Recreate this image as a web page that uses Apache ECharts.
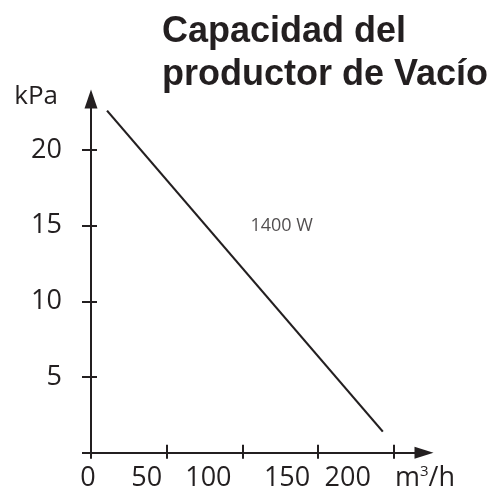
<!DOCTYPE html>
<html><head><meta charset="utf-8">
<script src="https://cdn.jsdelivr.net/npm/echarts@6/dist/echarts.min.js"></script>
<style>html,body{margin:0;padding:0;background:#fff}#c{width:500px;height:494px}</style>
</head><body><div id="c"></div>
<script>
// ---- data ----
const titleLines = ['Capacidad del', 'productor de Vacío'];
const flowValues = [10.6, 192.8];      // m³/h
const pressureValues = [22.6, 1.4];    // kPa
const seriesLabel = '1400 W';
const seriesLabelAt = [126, 15];
const xTickValues = [0, 50, 100, 150, 200];
const yTickValues = [5, 10, 15, 20];
const xUnit = ['m', '3', '/h'];
const yUnit = 'kPa';

// ---- styles ----
const INK = '#231f20';
const FONT = 'Open Sans';
const xLabelShift = {0: 3, 50: 20, 100: 34, 150: 31, 200: 46};

const xRich = {};
xTickValues.forEach(v => {
  xRich['s' + v] = {fontFamily: FONT, fontSize: 27, color: INK, padding: [0, 2 * xLabelShift[v], 0, 0]};
});

const chart = echarts.init(document.getElementById('c'), null, {renderer: 'canvas'});
const lineData = flowValues.map((x, i) => [x, pressureValues[i]]);

const option = {
  animation: false,
  backgroundColor: '#fff',
  title: {
    text: titleLines.join('\n'),
    left: 157, top: 6,
    textStyle: {fontFamily: 'Liberation Sans', fontWeight: 'bold', fontSize: 36, lineHeight: 43, color: INK}
  },
  grid: {left: 91, right: 76, top: 99, bottom: 41.2, containLabel: false, outerBoundsMode: 'none'},
  xAxis: [{
    type: 'value', min: 0, max: 220, interval: 50, position: 'bottom',
    axisLine: {show: true, onZero: false, symbol: ['none', 'triangle'], symbolSize: [12, 19], lineStyle: {color: INK, width: 2}},
    axisTick: {show: true, inside: false, length: 6, customValues: xTickValues, lineStyle: {color: INK, width: 2}},
    axisLabel: {customValues: xTickValues, margin: 12, formatter: v => '{s' + v + '|' + v + '}', rich: xRich},
    splitLine: {show: false},
    name: '{m|' + xUnit[0] + '}{sup|' + xUnit[1] + '}{m|' + xUnit[2] + '}',
    nameLocation: 'end', nameGap: 1,
    nameTextStyle: {align: 'center', verticalAlign: 'top', padding: [11, 0, 0, 0],
      rich: {m: {fontFamily: FONT, fontSize: 27, color: INK, lineHeight: 30},
             sup: {fontFamily: FONT, fontSize: 15, color: INK, verticalAlign: 'top', lineHeight: 30}}}
  }, {
    type: 'value', min: 0, max: 220, interval: 50, position: 'bottom',
    axisLine: {show: false, onZero: false},
    axisTick: {show: true, inside: true, length: 8, customValues: xTickValues.filter(v => v > 0), lineStyle: {color: INK, width: 2}},
    axisLabel: {show: false},
    splitLine: {show: false}
  }],
  yAxis: [{
    type: 'value', min: 0, max: 23.37, interval: 5, position: 'left',
    axisLine: {show: true, onZero: false, symbol: ['none', 'triangle'], symbolSize: [13, 19], lineStyle: {color: INK, width: 2}},
    axisTick: {show: true, inside: false, length: 9, customValues: [0].concat(yTickValues), lineStyle: {color: INK, width: 2}},
    axisLabel: {customValues: yTickValues, margin: 29, fontFamily: FONT, fontSize: 27, color: INK},
    splitLine: {show: false},
    name: yUnit, nameLocation: 'end', nameGap: 2,
    nameTextStyle: {align: 'right', verticalAlign: 'middle', padding: [0, 33, 0, 0], fontFamily: FONT, fontSize: 26, color: INK}
  }, {
    type: 'value', min: 0, max: 23.37, interval: 5, position: 'left',
    axisLine: {show: false, onZero: false},
    axisTick: {show: true, inside: true, length: 6, customValues: yTickValues, lineStyle: {color: INK, width: 2}},
    axisLabel: {show: false},
    splitLine: {show: false}
  }],
  series: [{
    type: 'line', xAxisIndex: 0, yAxisIndex: 0,
    data: lineData, symbol: 'none', silent: true,
    lineStyle: {color: INK, width: 2.2}
  }, {
    type: 'scatter', xAxisIndex: 0, yAxisIndex: 0,
    data: [seriesLabelAt], symbolSize: 1, silent: true,
    itemStyle: {color: 'rgba(0,0,0,0)'},
    label: {show: true, position: 'inside', formatter: seriesLabel, fontFamily: FONT, fontSize: 18, color: INK}
  }]
};
chart.setOption(option);
</script>
</body></html>
